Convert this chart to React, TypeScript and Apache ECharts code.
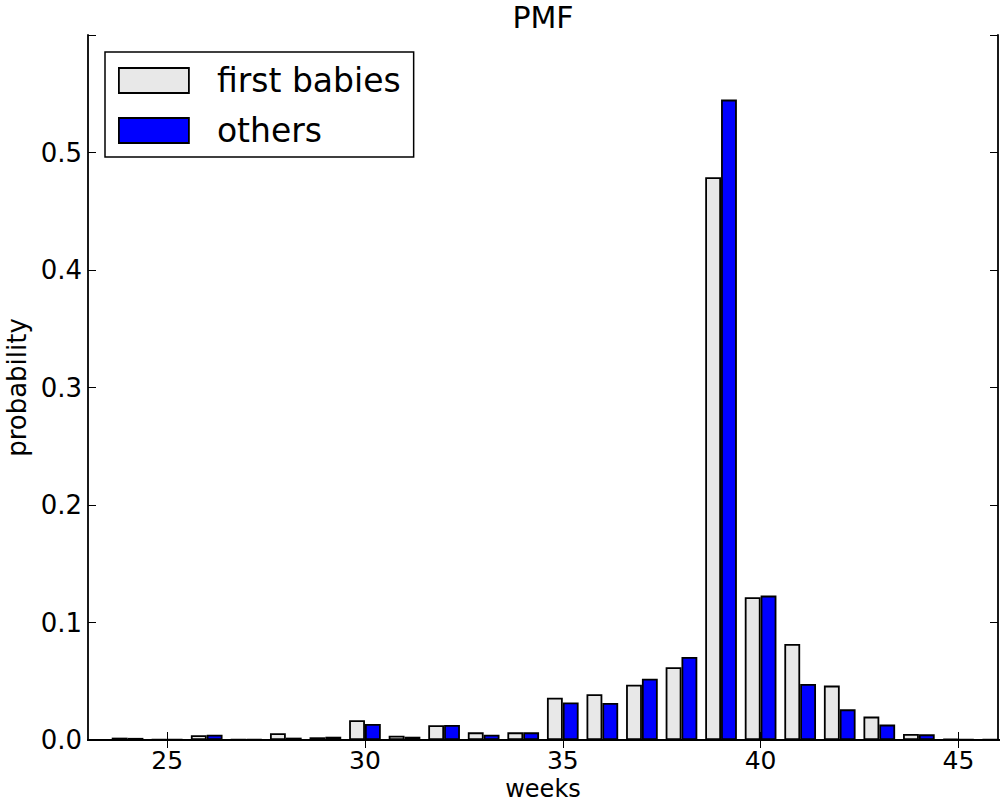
import React, { useEffect, useRef } from "react";
import * as echarts from "echarts";

const weeks = [24, 25, 26, 27, 28, 29, 30, 31, 32, 33, 34, 35, 36, 37, 38, 39, 40, 41, 42, 43, 44, 45, 46];
const firstBabies = [0.002, 0.0005, 0.004, 0.0005, 0.0057, 0.0023, 0.0168, 0.0037, 0.0125, 0.0065, 0.0065, 0.036, 0.039, 0.047, 0.062, 0.479, 0.1215, 0.0818, 0.0463, 0.0199, 0.0051, 0.001, 0.0005];
const others = [0.0018, 0.0007, 0.0045, 0.0005, 0.002, 0.0028, 0.0136, 0.0028, 0.0128, 0.0045, 0.0065, 0.032, 0.0315, 0.0522, 0.0707, 0.545, 0.1229, 0.0477, 0.0261, 0.0131, 0.0048, 0.0008, 0];
const xTicks = [25, 30, 35, 40, 45];
const seriesNames = ["first babies", "others"];

const FONT = "DejaVu Sans";

export default function App() {
  const ref = useRef<HTMLDivElement>(null);
  useEffect(() => {
    if (!ref.current) return;
    const chart = echarts.init(ref.current, null, { renderer: "svg" });
    const axisLine = { show: true, lineStyle: { color: "#000", width: 1.8 } };
    const tick = { show: true, inside: true, length: 8, lineStyle: { color: "#000", width: 1 } };
    chart.setOption({
      animation: false,
      backgroundColor: "#fff",
      graphic: [
        {
          type: "text",
          x: 543,
          y: 17.5,
          style: { text: "PMF", font: `30px '${FONT}'`, fill: "#000", textAlign: "center", textVerticalAlign: "middle" },
        },
      ],
      legend: {
        orient: "vertical",
        left: 105,
        top: 52,
        padding: [12, 13, 10, 13],
        itemGap: 17,
        itemWidth: 70,
        itemHeight: 25,
        borderColor: "#000",
        borderWidth: 1.5,
        borderRadius: 0,
        icon: "rect",
        textStyle: { fontFamily: FONT, fontSize: 33, color: "#000", padding: [0, 0, 0, 23] },
        data: [
          { name: seriesNames[0], itemStyle: { color: "#e8e8e8", borderColor: "#000", borderWidth: 1.8 } },
          { name: seriesNames[1], itemStyle: { color: "#0000ff", borderColor: "#000", borderWidth: 1.8 } },
        ],
      },
      grid: { left: 88, right: 2, top: 35, bottom: 63, containLabel: false, outerBoundsMode: "none" },
      xAxis: [
        {
          type: "value",
          min: 23,
          max: 46,
          position: "bottom",
          axisLine,
          axisTick: { ...tick, customValues: xTicks },
          axisLabel: { customValues: xTicks, fontFamily: FONT, fontSize: 25, color: "#000", margin: 7.5 },
          splitLine: { show: false },
          name: "weeks",
          nameLocation: "middle",
          nameGap: 37,
          nameMoveOverlap: false,
          nameTextStyle: { fontFamily: FONT, fontSize: 24, color: "#000" },
        },
        {
          type: "value",
          min: 23,
          max: 46,
          position: "top",
          axisLine,
          axisTick: { ...tick, customValues: xTicks },
          axisLabel: { show: false },
          splitLine: { show: false },
        },
      ],
      yAxis: [
        {
          type: "value",
          min: 0,
          max: 0.6,
          interval: 0.1,
          position: "left",
          axisLine,
          axisTick: tick,
          axisLabel: {
            fontFamily: FONT,
            fontSize: 26,
            color: "#000",
            margin: 6,
            formatter: (v: number) => (v > 0.55 ? "" : v.toFixed(1)),
          },
          splitLine: { show: false },
          name: "probability",
          nameLocation: "middle",
          nameGap: 58,
          nameMoveOverlap: false,
          nameRotate: 90,
          nameTextStyle: { fontFamily: FONT, fontSize: 26, color: "#000" },
        },
        {
          type: "value",
          min: 0,
          max: 0.6,
          interval: 0.1,
          position: "right",
          axisLine,
          axisTick: tick,
          axisLabel: { show: false },
          splitLine: { show: false },
        },
      ],
      series: [
        {
          name: seriesNames[0],
          type: "bar",
          xAxisIndex: 0,
          yAxisIndex: 0,
          barWidth: 15.84,
          barGap: "0%",
          itemStyle: { color: "#e8e8e8", borderColor: "#000", borderWidth: 1.8 },
          data: weeks.map((w, i) => [w, firstBabies[i]]),
        },
        {
          name: seriesNames[1],
          type: "bar",
          xAxisIndex: 0,
          yAxisIndex: 0,
          barWidth: 15.84,
          barGap: "0%",
          itemStyle: { color: "#0000ff", borderColor: "#000", borderWidth: 1.8 },
          data: weeks.map((w, i) => [w, others[i]]),
        },
      ],
    });
    return () => chart.dispose();
  }, []);
  return <div ref={ref} style={{ position: "absolute", left: 0, top: 0, width: 1000, height: 803 }} />;
}
